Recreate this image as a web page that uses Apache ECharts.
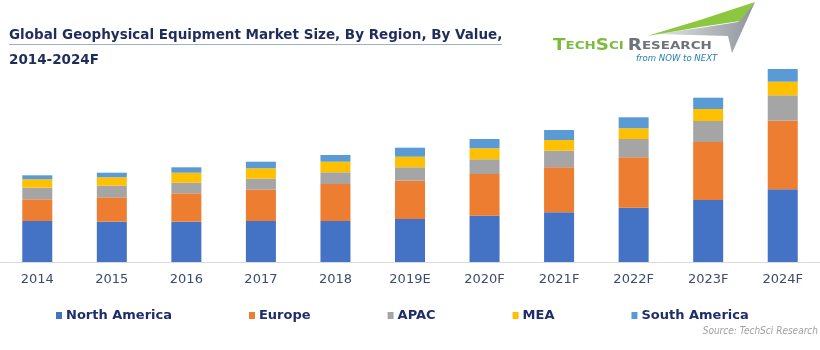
<!DOCTYPE html>
<html>
<head>
<meta charset="utf-8">
<script src="https://cdn.jsdelivr.net/npm/echarts@6/dist/echarts.min.js"></script>
<style>
  html, body { margin: 0; padding: 0; background: #fff; }
  #chart { width: 820px; height: 350px; }
</style>
</head>
<body>
<div id="chart"></div>
<script>
// values (relative units)
const years = ['2014', '2015', '2016', '2017', '2018', '2019E', '2020F', '2021F', '2022F', '2023F', '2024F']
const northAmerica = [41, 40.3, 40.3, 41, 41, 43, 46.3, 49.7, 54.3, 62, 72.7]
const europe = [21.7, 24.4, 28.4, 31.3, 37, 38.3, 41.7, 45, 50.4, 58, 68.6]
const apac = [11.6, 11.6, 10.6, 11, 11.7, 13.4, 14.7, 16.6, 18.3, 21, 25.4]
const mea = [8.4, 8.4, 10, 10.4, 10.6, 10.6, 11, 10.7, 10.7, 12, 13.6]
const southAmerica = [4, 4.6, 5.4, 6.6, 6.7, 9, 9.3, 10, 11, 11.3, 12.7]

const seriesNames = ['North America', 'Europe', 'APAC', 'MEA', 'South America']
const seriesColors = ['#4472C4', '#ED7D31', '#A5A5A5', '#FFC000', '#5B9BD5']
const seriesData = [northAmerica, europe, apac, mea, southAmerica]

const myChart = echarts.init(document.getElementById('chart'))

myChart.setOption({
	animation: false,
	grid: { left: 0, right: 0, top: 62, bottom: 88 },
	legend: {
		data: seriesNames,
		left: 51,
		top: 304,
		itemGap: 77,
		itemWidth: 6,
		itemHeight: 7,
		icon: 'rect',
		textStyle: { fontFamily: 'DejaVu Sans', fontWeight: 'bold', fontSize: 13, color: '#1F2D6B', padding: [0, 0, 0, -1] }
	},
	xAxis: {
		type: 'category',
		data: years,
		axisLine: { lineStyle: { color: '#D9D9D9' } },
		axisTick: { length: 5, lineStyle: { color: '#D9D9D9' } },
		axisLabel: { margin: 11, fontFamily: 'DejaVu Sans', fontSize: 13, color: '#3B4A6E' }
	},
	yAxis: {
		type: 'value',
		min: 0,
		max: 200,
		show: false,
		splitLine: { show: false }
	},
	series: seriesNames.map((name, i) => ({
		name: name,
		type: 'bar',
		stack: 'total',
		barWidth: 30,
		itemStyle: { color: seriesColors[i] },
		data: seriesData[i]
	})),
	graphic: [
		{
			type: 'text', left: 9, top: 28,
			style: { text: 'Global Geophysical Equipment Market Size, By Region, By Value,', font: 'bold 13.5px "DejaVu Sans"', fill: '#1F2D5C' }
		},
		{
			type: 'line', shape: { x1: 9, y1: 44.5, x2: 502, y2: 44.5 },
			style: { stroke: '#9DB0CC', lineWidth: 1 }
		},
		{
			type: 'text', left: 9, top: 53,
			style: { text: '2014-2024F', font: 'bold 13.5px "DejaVu Sans"', fill: '#1F2D5C' }
		},
		// logo
		{
			type: 'polygon',
			shape: { points: [[655, 34], [700, 28], [738, 22], [755, 2], [732, 53], [728, 36]] },
			style: {
				fill: new echarts.graphic.LinearGradient(0, 0, 1, 0, [
					{ offset: 0, color: '#E4E6E8' },
					{ offset: 1, color: '#8E949B' }
				])
			}
		},
		{
			type: 'polygon',
			shape: { points: [[647, 36], [700, 20], [755, 2], [740, 21], [700, 27]] },
			style: { fill: '#8DC63F' }
		},
		{
			type: 'text', x: 553, y: 39, scaleX: 1.22,
			style: {
				text: '{g|T}{gs|ECH}{g|S}{gs|CI} {r|R}{rs|ESEARCH}',
				rich: {
					g: { font: 'bold 15px "DejaVu Sans"', fill: '#7DBB3C' },
					gs: { font: 'bold 11px "DejaVu Sans"', fill: '#7DBB3C' },
					r: { font: 'bold 15px "DejaVu Sans"', fill: '#6D737B' },
					rs: { font: 'bold 11px "DejaVu Sans"', fill: '#6D737B' }
				}
			}
		},
		{
			type: 'text', left: 636, top: 54,
			style: { text: 'from NOW to NEXT', font: 'italic 9.5px "DejaVu Sans Condensed"', fill: '#1F7FA8' }
		},
		{
			type: 'text', right: 2, top: 326,
			style: { text: 'Source: TechSci Research', font: 'italic 10px "DejaVu Sans Condensed"', fill: '#A0A0A0' }
		}
	]
})
</script>
</body>
</html>
